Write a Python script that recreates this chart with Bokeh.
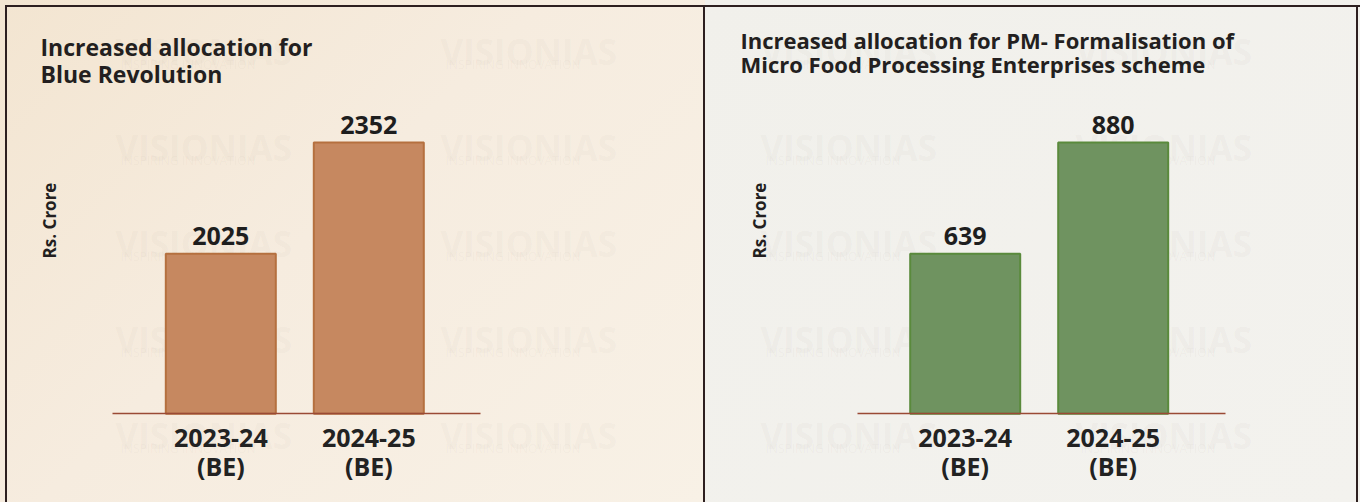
import math
from bokeh.plotting import figure
from bokeh.layouts import row
from bokeh.models import Label, FixedTicker, Range1d, LinearAxis
from bokeh.core.properties import value
from bokeh.embed import file_html
from bokeh.resources import INLINE

# ---------------- data ----------------
categories = ["2023-24\n(BE)", "2024-25\n(BE)"]
blue_revolution = [2025, 2352]
pmfme = [639, 880]
left_title = ["Increased allocation for", "Blue Revolution"]
right_title = ["Increased allocation for PM- Formalisation of",
               "Micro Food Processing Enterprises scheme"]
y_label = "Rs. Crore"
watermark = "VISIONIAS"
watermark_tag = "INSPIRING INNOVATION"

FONT = "Open Sans"
H = 502
BASE_PX = 413.3          # screen y of the category axis line
BAR_SPACING_PX = 148.0   # pixels between bar centres
INK = "#2d1f1f"


def sy(y_screen):
    """page y (from top) -> Bokeh screen units (from the bottom of the canvas)"""
    return H - y_screen


def line_bg(x, y, w, h):
    return f"linear-gradient({INK},{INK}) {x}px {y}px / {w} {h} no-repeat"


def panel(width, left_px, values, axis_base, axis_x0_px, axis_x1_px, first_center_px,
          fill, line, title_lines, title_x, title_baselines, title_size, ylab_center,
          background, wm_cols):
    # x scale: one category per BAR_SPACING_PX pixels
    x0 = -(first_center_px - left_px) / BAR_SPACING_PX
    x_range = Range1d(x0, x0 + width / BAR_SPACING_PX)
    # y scale: bars start on the axis line, tops as in the reference
    px_per_unit = (253.3 - 142.0) / (values[1] - values[0])
    y0 = axis_base - (H - BASE_PX) / px_per_unit
    y_range = Range1d(y0, y0 + H / px_per_unit)

    p = figure(width=width, height=H, output_backend="svg", toolbar_location=None,
               x_range=x_range, y_range=y_range, y_axis_location=None,
               x_axis_location=None, min_border=0)
    p.border_fill_alpha = 0
    p.background_fill_alpha = 0
    p.outline_line_color = None
    p.xgrid.visible = False
    p.ygrid.visible = False
    p.styles = {"background": background}

    # faint watermark behind everything
    for ytop in [26, 122, 218, 314, 410]:
        for xs in wm_cols:
            p.add_layout(Label(x=xs - left_px, y=sy(ytop + 25), x_units="screen", y_units="screen",
                               text=watermark, text_font=FONT, text_font_style="bold",
                               text_font_size="35px", text_color="#7a7068", text_alpha=0.05,
                               text_baseline="alphabetic", level="underlay"))
            p.add_layout(Label(x=xs + 5 - left_px, y=sy(ytop + 38), x_units="screen", y_units="screen",
                               text=watermark_tag, text_font=FONT,
                               text_font_size="12px", text_color="#7a7068", text_alpha=0.05,
                               text_baseline="alphabetic", level="underlay"))

    idx = list(range(len(values)))
    p.vbar(x=idx, top=values, bottom=axis_base, width=110 / BAR_SPACING_PX,
           fill_color=fill, line_color=line, line_width=2)
    p.text(x=idx, y=values, text=[str(v) for v in values], text_align="center",
           text_baseline="alphabetic", y_offset=-18, text_font=value(FONT),
           text_font_style="bold", text_font_size="25px", text_color="#1e1e1e")

    ax = LinearAxis(fixed_location=axis_base,
                    bounds=(x0 + (axis_x0_px - left_px) / BAR_SPACING_PX,
                            x0 + (axis_x1_px - left_px) / BAR_SPACING_PX))
    ax.ticker = FixedTicker(ticks=idx)
    ax.major_label_overrides = {i: c for i, c in zip(idx, categories)}
    ax.major_tick_line_color = None
    ax.minor_tick_line_color = None
    ax.major_tick_in = 0
    ax.major_tick_out = 0
    ax.axis_line_color = "#9a4a35"
    ax.axis_line_width = 1.5
    ax.major_label_standoff = 6
    ax.major_label_text_font = FONT
    ax.major_label_text_font_style = "bold"
    ax.major_label_text_font_size = "25px"
    ax.major_label_text_color = "#222222"
    ax.major_label_text_line_height = 0.86
    p.add_layout(ax, "below")

    for t, b in zip(title_lines, title_baselines):
        p.add_layout(Label(x=title_x - left_px, y=sy(b), x_units="screen", y_units="screen",
                           text=t, text_font=FONT, text_font_style="bold",
                           text_font_size=title_size, text_color="#231f20",
                           text_baseline="alphabetic"))
    cx, cy = ylab_center
    p.add_layout(Label(x=cx - left_px, y=sy(cy), x_units="screen", y_units="screen",
                       text=y_label, angle=math.pi / 2, text_align="center",
                       text_baseline="middle", text_font=FONT, text_font_style="bold",
                       text_font_size="17px", text_color="#231f20"))
    return p


bg_left = ", ".join([
    line_bg(5, 5, "2px", "100%"),
    line_bg(5, 5, "100%", "2px"),
    line_bg(703, 5, "2px", "100%"),
    "linear-gradient(135deg, #f3e5d1 0%, #f6ecdf 45%, #f8f1e6 100%)",
])
bg_right = ", ".join([
    line_bg(0, 5, "100%", "2px"),
    line_bg(651, 5, "2px", "100%"),
    "linear-gradient(135deg, #f1f0eb 0%, #f3f2ee 100%)",
])

p1 = panel(705, 0, blue_revolution, 1555, 112.3, 480.0, 220.3, "#c68860", "#b5703f",
           left_title, 40, [46, 73], "23px", (49, 220), bg_left, [115, 440])
p2 = panel(655, 705, pmfme, 292.6, 856.7, 1225.0, 964.7, "#6f9360", "#5a8a3c",
           right_title, 740, [39, 63], "22px", (759, 220), bg_right, [760, 1075])

layout = row(p1, p2)
open("out.html", "w").write(file_html(layout, INLINE))
